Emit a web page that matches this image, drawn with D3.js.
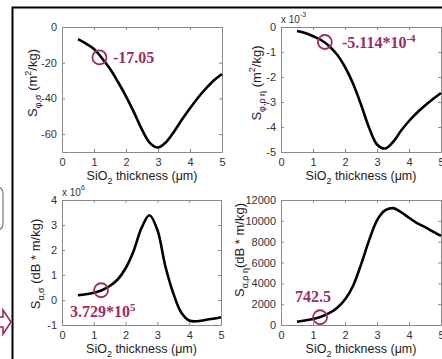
<!DOCTYPE html>
<html>
<head>
<meta charset="utf-8">
<script src="https://cdn.jsdelivr.net/npm/d3@7"></script>
<style>
  html, body { margin: 0; padding: 0; background: #fff; }
  svg { display: block; }
  .tick text { font-family: "Liberation Sans", Arial, sans-serif; font-size: 11px; fill: #333; }
  .domain, .tick line { stroke: #8a8a8a; }
</style>
</head>
<body>
<svg id="fig" width="442" height="359"></svg>
<script>
// SiO2 thickness (um), shared by all four panels
const thickness = [0.5, 0.75, 1.0, 1.25, 1.5, 1.75, 2.0, 2.25, 2.5, 2.75, 3.0,
  3.25, 3.5, 3.75, 4.0, 4.25, 4.5, 4.75, 5.0];

// S phi,sigma (m^2/kg)
const sPhiSigma = [-6.8, -9.3, -12.3, -17.5, -23.4, -30.8, -38.8, -47.8, -57.5, -65.0,
  -67.5, -64.5, -58.6, -51.8, -45.5, -39.6, -34.4, -29.8, -26.3];
// S phi,rho eta (x 10^-3 m^2/kg)
const sPhiRhoEta = [-0.16, -0.24, -0.37, -0.52, -0.76, -1.1, -1.6, -2.26, -3.1, -4.02,
  -4.7, -4.86, -4.6, -4.15, -3.76, -3.43, -3.14, -2.88, -2.64];
// S alpha,sigma (x 10^6 dB*m/kg)
const sAlphaSigma = [0.19, 0.23, 0.29, 0.39, 0.56, 0.82, 1.27, 1.95, 2.88, 3.39,
  2.8, 1.35, 0.27, -0.5, -0.82, -0.85, -0.8, -0.75, -0.69];
// S alpha,rho eta (dB*m/kg)
const sAlphaRhoEta = [320, 440, 570, 800, 1130, 1640, 2450, 3750, 5800, 8100,
  10050, 11000, 11220, 10830, 10300, 9790, 9400, 8970, 8550];

const xTicks = [0, 1, 2, 3, 4, 5];
const yTicksPhiSigma = [-60, -40, -20, 0];
const yTicksPhiRhoEta = [-5, -4, -3, -2, -1, 0];
const yTicksAlphaSigma = [-1, 0, 1, 2, 3, 4];
const yTicksAlphaRhoEta = [0, 2000, 4000, 6000, 8000, 10000, 12000];

// marked points: [thickness, value]
const markPhiSigma = [1.17, -17.05];
const markPhiRhoEta = [1.37, -0.6];
const markAlphaSigma = [1.23, 0.39];
const markAlphaRhoEta = [1.22, 742.5];

const accent = '#9c2c62';
const svg = d3.select('#fig');

// writes text made of pieces [str, 'sub'|'sup'|null]
function rich(sel, parts, small) {
  let shift = 0;
  parts.forEach(([str, kind]) => {
    let target = 0;
    if (kind === 'sub') target = 4;
    if (kind === 'sup') target = -6;
    const t = sel.append('tspan').attr('dy', target - shift).text(str);
    if (kind) t.attr('font-size', small);
    shift = target;
  });
}

const panels = [
  { left: 62, top: 27, w: 160, h: 125, y: sPhiSigma, dom: [-70, 0], ticks: yTicksPhiSigma,
    mark: markPhiSigma, ylab: [['S', null], ['φ,σ', 'sub'], [' (m', null], ['2', 'sup'], ['/kg)', null]],
    ylabX: 37, ylabY: 83,
    note: [['-17.05', null]], noteX: 113, noteY: 63 },
  { left: 281, top: 27, w: 160, h: 125, y: sPhiRhoEta, dom: [-5, 0], ticks: yTicksPhiRhoEta,
    mark: markPhiRhoEta, ylab: [['S', null], ['φ,ρ η', 'sub'], [' (m', null], ['2', 'sup'], ['/kg)', null]],
    ylabX: 261, ylabY: 83, expo: '-3',
    note: [['-5.114*10', null], ['-4', 'sup']], noteX: 342, noteY: 48 },
  { left: 62, top: 200, w: 159, h: 125, y: sAlphaSigma, dom: [-1, 4], ticks: yTicksAlphaSigma,
    mark: markAlphaSigma, ylab: [['S', null], ['α,σ', 'sub'], [' (dB * m/kg)', null]],
    ylabX: 40, ylabY: 264, expo: '6',
    note: [['3.729*10', null], ['5', 'sup']], noteX: 70, noteY: 317 },
  { left: 281, top: 200, w: 160, h: 125, y: sAlphaRhoEta, dom: [0, 12000], ticks: yTicksAlphaRhoEta,
    mark: markAlphaRhoEta, ylab: [['S', null], ['α,ρ η', 'sub'], ['(dB * m/kg)', null]],
    ylabX: 244, ylabY: 250,
    note: [['742.5', null]], noteX: 295, noteY: 302 }
];

panels.forEach(p => {
  const x = d3.scaleLinear().domain([0, 5]).range([p.left, p.left + p.w]);
  const y = d3.scaleLinear().domain(p.dom).range([p.top + p.h, p.top]);
  const g = svg.append('g');

  g.append('g').attr('transform', `translate(0,${p.top + p.h})`)
    .call(d3.axisBottom(x).tickValues(xTicks).tickSizeInner(-3).tickSizeOuter(0).tickPadding(6)
      .tickFormat(d3.format('d')));
  g.append('g').attr('transform', `translate(0,${p.top})`)
    .call(d3.axisTop(x).tickValues(xTicks).tickSizeInner(-3).tickSizeOuter(0).tickFormat(''));
  g.append('g').attr('transform', `translate(${p.left},0)`)
    .call(d3.axisLeft(y).tickValues(p.ticks).tickSizeInner(-3).tickSizeOuter(0).tickPadding(5)
      .tickFormat(d3.format('d')));
  g.append('g').attr('transform', `translate(${p.left + p.w},0)`)
    .call(d3.axisRight(y).tickValues(p.ticks).tickSizeInner(-3).tickSizeOuter(0).tickFormat(''));
  g.selectAll('.tick text').text(function () { return this.textContent.replace('−', '-'); });

  const line = d3.line()
    .x((d, i) => x(thickness[i]))
    .y(d => y(d))
    .curve(d3.curveCatmullRom.alpha(0.5));
  g.append('path').datum(p.y)
    .attr('d', line)
    .attr('fill', 'none')
    .attr('stroke', '#000')
    .attr('stroke-width', 2.6)
    .attr('stroke-linejoin', 'round');

  g.append('circle')
    .attr('cx', x(p.mark[0])).attr('cy', y(p.mark[1])).attr('r', 7)
    .attr('fill', 'none').attr('stroke', accent).attr('stroke-width', 1.8);

  const note = g.append('text')
    .attr('x', p.noteX).attr('y', p.noteY)
    .attr('font-family', '"Liberation Serif", "Times New Roman", serif')
    .attr('font-weight', 'bold').attr('font-size', 16).attr('fill', accent);
  rich(note, p.note, 11);

  const xl = g.append('text')
    .attr('x', p.left + p.w / 2).attr('y', p.top + p.h + 28)
    .attr('text-anchor', 'middle')
    .attr('font-family', '"Liberation Sans", Arial, sans-serif')
    .attr('font-size', 12.5).attr('fill', '#222');
  rich(xl, [['SiO', null], ['2', 'sub'], [' thickness (μm)', null]], 9);

  const yl = g.append('text')
    .attr('transform', `translate(${p.ylabX},${p.ylabY}) rotate(-90)`)
    .attr('text-anchor', 'middle')
    .attr('font-family', '"Liberation Sans", Arial, sans-serif')
    .attr('font-size', 13).attr('fill', '#222');
  rich(yl, p.ylab, 9);

  if (p.expo) {
    const ex = g.append('text')
      .attr('x', p.left).attr('y', p.top - 4)
      .attr('font-family', '"Liberation Sans", Arial, sans-serif')
      .attr('font-size', 10).attr('fill', '#333');
    rich(ex, [['x 10', null], [p.expo, 'sup']], 7);
  }
});

// frame of the surrounding slide and shapes cut off at the left edge
svg.append('path').attr('d', 'M12.5,359 V7.5 H442')
  .attr('fill', 'none').attr('stroke', '#000').attr('stroke-width', 2);
svg.append('rect').attr('x', -20).attr('y', 187).attr('width', 23).attr('height', 43).attr('rx', 6)
  .attr('fill', 'none').attr('stroke', '#777').attr('stroke-width', 1.2);
svg.append('path').attr('d', 'M-5,317 H3 V310 L11,322 L3,334 V327 H-5')
  .attr('fill', 'none').attr('stroke', accent).attr('stroke-width', 1.6);
</script>
</body>
</html>
